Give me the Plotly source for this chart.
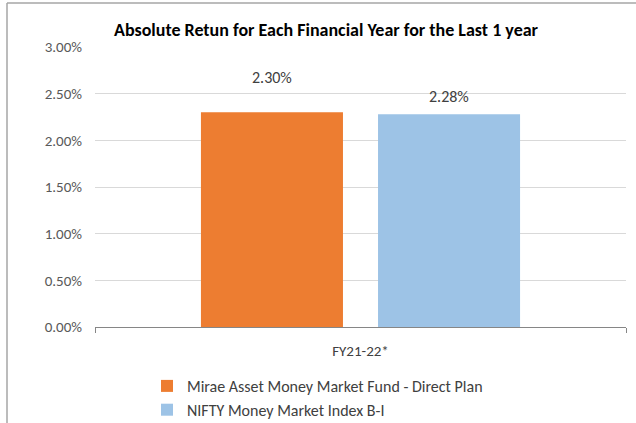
import plotly.graph_objects as go

categories = ["FY21-22*"]
series_names = ["Mirae Asset Money Market Fund - Direct Plan", "NIFTY Money Market Index B-I"]
fund_values = [0.0230]
index_values = [0.0228]
series_values = [fund_values, index_values]
colors = ["#ED7D31", "#9DC3E6"]
y_ticks = [0, 0.005, 0.01, 0.015, 0.02, 0.025, 0.03]
title_text = "Absolute Retun for Each Financial Year for the Last 1 year"

FONT = "Carlito, 'Liberation Sans Narrow', Lato, 'Open Sans', sans-serif"

fig = go.Figure()
for name, vals, col in zip(series_names, series_values, colors):
    fig.add_trace(go.Bar(x=categories, y=vals, name=name, marker_color=col,
                         marker_line_width=0))

# data labels (manually positioned in the original)
label_shift = [(-88.5, 23), (88.5, 6)]
for vals, (xs, ys) in zip(series_values, label_shift):
    for c, v in zip(categories, vals):
        fig.add_annotation(x=c, y=v, text=f"{v*100:.2f}%", showarrow=False,
                           xshift=xs, yshift=ys, yanchor="bottom",
                           font=dict(family=FONT, size=16, color="#404040"))

W, H = 636, 423
L, R, T, B = 95, 10, 47, 96
pw, ph = W - L - R, H - T - B
def px_x(p): return (p - L) / pw
def px_y(p): return (H - B - p) / ph

fig.add_shape(type="line", xref="paper", yref="paper", x0=px_x(7), x1=px_x(636),
              y0=px_y(3), y1=px_y(3), line=dict(color="#A6A6A6", width=1.5))
fig.add_shape(type="line", xref="paper", yref="paper", x0=px_x(7), x1=px_x(7),
              y0=px_y(3), y1=px_y(423), line=dict(color="#A6A6A6", width=1.5))

fig.update_layout(
    width=W, height=H,
    margin=dict(l=L, r=R, t=T, b=B, autoexpand=False),
    paper_bgcolor="white", plot_bgcolor="white",
    barmode="group", bargap=0.333, bargroupgap=0.198,
    title=dict(text=f"<b>{title_text}</b>", x=326 / W, xref="container",
               xanchor="center", y=1 - 30 / H, yanchor="middle",
               font=dict(family=FONT, size=18, color="#000000")),
    font=dict(family=FONT, color="#595959"),
    showlegend=True,
    legend=dict(orientation="v", x=px_x(147), xanchor="left", y=px_y(369), yanchor="top",
                font=dict(family=FONT, size=16, color="#404040"),
                bgcolor="rgba(0,0,0,0)", tracegroupgap=0, itemwidth=30),
    yaxis=dict(range=[0, 0.03], tickvals=y_ticks, tickformat=".2%",
               showgrid=True, gridcolor="#D9D9D9", gridwidth=1,
               zeroline=False, showline=False, ticks="",
               ticklabelstandoff=12,
               tickfont=dict(family=FONT, size=15, color="#595959")),
    xaxis=dict(showline=True, linecolor="#868686", linewidth=1,
               ticks="outside", tickson="boundaries", ticklen=5, tickcolor="#868686",
               ticklabelstandoff=10,
               tickfont=dict(family=FONT, size=15, color="#404040")),
)

fig.write_html("out.html")
